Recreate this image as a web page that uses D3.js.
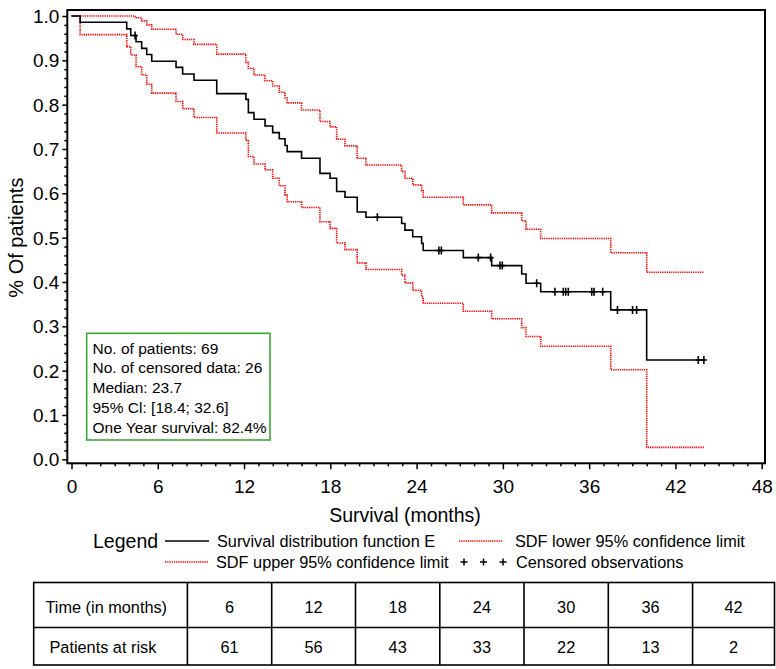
<!DOCTYPE html>
<html><head><meta charset="utf-8">
<script src="https://cdn.jsdelivr.net/npm/d3@7"></script>
<style>body{margin:0;background:#fff}svg{display:block;font-family:"Liberation Sans",Arial,Helvetica,sans-serif}</style>
</head><body><svg id="c" width="776" height="669"></svg>
<script>
// ---- data ----
const kmTimes = [0, 0.6, 3.84, 4.12, 4.49, 4.88, 5.23, 5.58, 7.27, 7.73, 8.52, 10.1, 12.13, 12.3, 12.69, 13.46, 13.99, 14.45, 14.85, 15.0, 16.0, 17.28, 17.98, 18.44, 19.02, 19.87, 20.48, 22.96, 23.19, 23.73, 24.35, 24.46, 27.25, 29.22, 31.31, 31.61, 32.63, 37.5, 40.0];
const kmSurv  = [1.0, 0.986, 0.971, 0.956, 0.942, 0.927, 0.913, 0.898, 0.884, 0.869, 0.855, 0.825, 0.812, 0.782, 0.767, 0.752, 0.737, 0.723, 0.708, 0.694, 0.679, 0.645, 0.634, 0.604, 0.591, 0.558, 0.546, 0.532, 0.517, 0.502, 0.487, 0.471, 0.455, 0.437, 0.418, 0.397, 0.378, 0.337, 0.224];
const upTimes = [0, 4.42, 4.88, 5.23, 5.58, 7.27, 7.73, 8.52, 10.1, 12.13, 12.3, 12.69, 13.46, 13.99, 14.45, 14.85, 15.0, 16.0, 17.28, 17.98, 18.44, 19.02, 19.87, 20.48, 22.96, 23.19, 23.73, 24.35, 24.46, 27.25, 29.22, 31.31, 31.61, 32.63, 37.5, 40.0];
const upVals  = [1.0, 0.996, 0.989, 0.98, 0.97, 0.959, 0.947, 0.936, 0.914, 0.895, 0.882, 0.867, 0.854, 0.842, 0.828, 0.815, 0.804, 0.788, 0.762, 0.750, 0.722, 0.707, 0.679, 0.664, 0.649, 0.634, 0.619, 0.606, 0.591, 0.574, 0.556, 0.538, 0.519, 0.498, 0.466, 0.422];
const loTimes = [0, 0.6, 3.84, 4.12, 4.49, 4.88, 5.23, 5.58, 7.27, 7.73, 8.52, 10.1, 12.13, 12.3, 12.69, 13.46, 13.99, 14.45, 14.85, 15.0, 16.0, 17.28, 17.98, 18.44, 19.02, 19.87, 20.48, 22.96, 23.19, 23.73, 24.35, 24.46, 27.25, 29.22, 31.31, 31.61, 32.63, 37.5, 40.0];
const loVals  = [1.0, 0.958, 0.931, 0.912, 0.886, 0.867, 0.846, 0.826, 0.807, 0.791, 0.771, 0.736, 0.719, 0.683, 0.666, 0.653, 0.634, 0.617, 0.596, 0.581, 0.568, 0.536, 0.521, 0.488, 0.473, 0.443, 0.428, 0.415, 0.398, 0.381, 0.366, 0.352, 0.334, 0.317, 0.297, 0.277, 0.255, 0.202, 0.027];
const lastTime = 43.98;
const censorTimes = [4.42, 21.27, 25.55, 25.72, 28.29, 29.15, 29.8, 29.96, 32.35, 33.62, 34.2, 34.37, 34.55, 36.18, 36.34, 36.94, 37.97, 39.02, 39.3, 43.59, 43.98];
const xTicks = [0, 6, 12, 18, 24, 30, 36, 42, 48];
const yTicks = [0, 0.1, 0.2, 0.3, 0.4, 0.5, 0.6, 0.7, 0.8, 0.9, 1.0];
const tableTimes = [6, 12, 18, 24, 30, 36, 42];
const atRisk = [61, 56, 43, 33, 22, 13, 2];
const statsLines = ["No. of patients: 69", "No. of censored data: 26", "Median: 23.7", "95% Cl: [18.4; 32.6]", "One Year survival: 82.4%"];

// ---- drawing ----
const svg = d3.select("#c");
const x = d3.scaleLinear().domain([0, 48]).range([71.5, 761.7]);
const y = d3.scaleLinear().domain([0, 1]).range([459.3, 16]);
const F = {l: 67.3, r: 765, t: 10, b: 463.3};

// axes
const yMajor = d3.axisLeft(y).tickValues(yTicks).tickSize(5).tickFormat(d3.format(".1f"));
const yMinor = d3.axisLeft(y).tickValues(d3.range(0, 50).map(i => i * 0.02).filter(v => Math.round(v * 50) % 5 !== 0)).tickSize(3).tickFormat("");
const xMajor = d3.axisBottom(x).tickValues(xTicks).tickSize(6).tickFormat(d3.format("d"));
const xMinor = d3.axisBottom(x).tickValues(d3.range(0, 49).filter(v => v % 6 !== 0)).tickSize(3).tickFormat("");

function styleAxis(g, fs) {
  g.select(".domain").remove();
  g.selectAll(".tick line").attr("stroke", "#000").attr("stroke-width", 1.5);
  g.selectAll(".tick text").attr("fill", "#000").style("font-size", fs + "px").style("font-family", '"Liberation Sans",Arial,sans-serif');
}
const gy = svg.append("g").attr("transform", `translate(${F.l},0)`).call(yMajor); styleAxis(gy, 19);
gy.selectAll(".tick text").attr("x", -8).attr("dy", "0.35em");
const gy2 = svg.append("g").attr("transform", `translate(${F.l},0)`).call(yMinor); styleAxis(gy2, 19);
const gx = svg.append("g").attr("transform", `translate(0,${F.b})`).call(xMajor); styleAxis(gx, 19);
gx.selectAll(".tick text").attr("y", 16);
const gx2 = svg.append("g").attr("transform", `translate(0,${F.b})`).call(xMinor); styleAxis(gx2, 19);

// frame
svg.append("rect").attr("x", F.l).attr("y", F.t).attr("width", F.r - F.l).attr("height", F.b - F.t)
  .attr("fill", "none").attr("stroke", "#000").attr("stroke-width", 2);

// axis titles
svg.append("text").attr("transform", `translate(23,${(y(0) + y(1)) / 2}) rotate(-90)`).attr("text-anchor", "middle")
  .style("font-size", "20px").text("% Of patients");
svg.append("text").attr("x", 405).attr("y", 522).attr("text-anchor", "middle").style("font-size", "19.5px").text("Survival (months)");

// step lines
const stepLine = d3.line().x(d => x(d[0])).y(d => y(d[1])).curve(d3.curveStepAfter);
function pts(ts, vs) { const p = ts.map((t, i) => [t, vs[i]]); p.push([lastTime, vs[vs.length - 1]]); return p; }
svg.append("path").attr("d", stepLine(pts(upTimes, upVals))).attr("fill", "none").attr("stroke", "#f00").attr("stroke-width", 1.6).attr("stroke-dasharray", "1.3,0.9");
svg.append("path").attr("d", stepLine(pts(loTimes, loVals))).attr("fill", "none").attr("stroke", "#f00").attr("stroke-width", 1.6).attr("stroke-dasharray", "1.3,0.9");
svg.append("path").attr("d", stepLine(pts(kmTimes, kmSurv))).attr("fill", "none").attr("stroke", "#000").attr("stroke-width", 1.6);

// censor marks
const survAt = t => kmSurv[d3.bisectRight(kmTimes, t) - 1];
const plus = (cx, cy, h, w) => `M${cx},${cy - h}V${cy + h}M${cx - w},${cy}H${cx + w}`;
svg.append("g").selectAll("path").data(censorTimes).join("path")
  .attr("d", t => plus(x(t), y(survAt(t)), 4, 3)).attr("stroke", "#000").attr("stroke-width", 1.6).attr("fill", "none");

// stats box
svg.append("rect").attr("x", 86.7).attr("y", 333.3).attr("width", 183.3).attr("height", 106.7)
  .attr("fill", "#fff").attr("stroke", "#3aaa35").attr("stroke-width", 1.6);
svg.append("g").selectAll("text").data(statsLines).join("text")
  .attr("x", 92.5).attr("y", (d, i) => 353.5 + i * 19.8).style("font-size", "15.5px").text(d => d);

// legend
const lg = svg.append("g");
lg.append("text").attr("x", 93).attr("y", 548).style("font-size", "19.5px").text("Legend");
const legItems = [
  {x1: 165, x2: 209, ly: 541, color: "#000", dash: null, tx: 217, ty: 547, label: "Survival distribution function E"},
  {x1: 459, x2: 503, ly: 541, color: "#f00", dash: "1.3,0.9", tx: 515, ty: 547, label: "SDF lower 95% confidence limit"},
  {x1: 165, x2: 209, ly: 562, color: "#f00", dash: "1.3,0.9", tx: 216, ty: 568, label: "SDF upper 95% confidence limit"},
];
legItems.forEach(d => {
  lg.append("line").attr("x1", d.x1).attr("x2", d.x2).attr("y1", d.ly).attr("y2", d.ly)
    .attr("stroke", d.color).attr("stroke-width", 1.6).attr("stroke-dasharray", d.dash);
  lg.append("text").attr("x", d.tx).attr("y", d.ty).style("font-size", "16.3px").text(d.label);
});
[464, 483.5, 503].forEach(cx => lg.append("path").attr("d", plus(cx, 562, 3.5, 3.5)).attr("stroke", "#000").attr("stroke-width", 1.5));
lg.append("text").attr("x", 516).attr("y", 568).style("font-size", "16.3px").text("Censored observations");

// table
const colEdges = [33.7, 187.4, 271.7, 355.5, 439.8, 524, 608.3, 692.6, 774.5];
const rowEdges = [582.5, 627.5, 665];
const tg = svg.append("g");
tg.append("rect").attr("x", colEdges[0]).attr("y", rowEdges[0]).attr("width", colEdges[8] - colEdges[0]).attr("height", rowEdges[2] - rowEdges[0])
  .attr("fill", "none").attr("stroke", "#000").attr("stroke-width", 1.6);
tg.append("line").attr("x1", colEdges[0]).attr("x2", colEdges[8]).attr("y1", rowEdges[1]).attr("y2", rowEdges[1]).attr("stroke", "#000").attr("stroke-width", 1.6);
colEdges.slice(1, 8).forEach(cx => tg.append("line").attr("x1", cx).attr("x2", cx).attr("y1", rowEdges[0]).attr("y2", rowEdges[2]).attr("stroke", "#000").attr("stroke-width", 1.6));
tg.append("text").attr("x", 45.5).attr("y", 613).style("font-size", "16.3px").text("Time (in months)");
tg.append("text").attr("x", 49.5).attr("y", 652.5).style("font-size", "16.3px").text("Patients at risk");
tg.selectAll("text.t").data(tableTimes).join("text").attr("class", "t")
  .attr("x", (d, i) => (colEdges[i + 1] + colEdges[i + 2]) / 2).attr("y", 613).attr("text-anchor", "middle").style("font-size", "16.3px").text(d => d);
tg.selectAll("text.r").data(atRisk).join("text").attr("class", "r")
  .attr("x", (d, i) => (colEdges[i + 1] + colEdges[i + 2]) / 2).attr("y", 652.5).attr("text-anchor", "middle").style("font-size", "16.3px").text(d => d);
</script></body></html>
